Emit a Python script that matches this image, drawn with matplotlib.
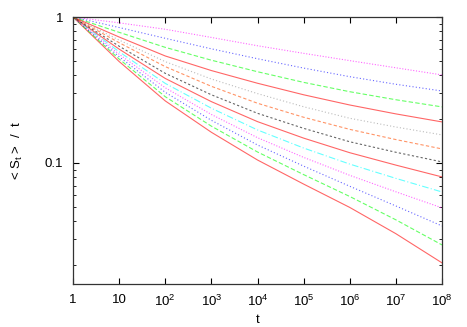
import matplotlib
matplotlib.use('Agg')
import matplotlib.pyplot as plt
import numpy as np

plt.rcParams['font.family'] = ['Liberation Sans', 'DejaVu Sans']
plt.rcParams['mathtext.default'] = 'regular'

# t values (decades) and log10(<S_t>/t), bottom curve first
t = [1, 1e1, 1e2, 1e3, 1e4, 1e5, 1e6, 1e7, 1e8]
logS = [
    [0, -0.305, -0.575, -0.790, -0.980, -1.145, -1.305, -1.485, -1.685],
    [0, -0.288, -0.546, -0.748, -0.925, -1.080, -1.230, -1.390, -1.562],
    [0, -0.272, -0.516, -0.708, -0.877, -1.022, -1.160, -1.295, -1.432],
    [0, -0.255, -0.485, -0.668, -0.827, -0.962, -1.085, -1.198, -1.308],
    [0, -0.238, -0.455, -0.625, -0.774, -0.898, -1.008, -1.106, -1.199],
    [0, -0.220, -0.421, -0.580, -0.717, -0.830, -0.930, -1.015, -1.096],
    [0, -0.200, -0.386, -0.533, -0.660, -0.763, -0.855, -0.927, -0.993],
    [0, -0.176, -0.340, -0.475, -0.591, -0.687, -0.770, -0.840, -0.904],
    [0, -0.158, -0.306, -0.425, -0.525, -0.615, -0.694, -0.754, -0.808],
    [0, -0.137, -0.267, -0.367, -0.454, -0.533, -0.603, -0.664, -0.719],
    [0, -0.105, -0.208, -0.296, -0.375, -0.448, -0.512, -0.567, -0.616],
    [0, -0.072, -0.146, -0.218, -0.286, -0.350, -0.409, -0.461, -0.507],
    [0, -0.040, -0.084, -0.140, -0.197, -0.249, -0.299, -0.348, -0.397],
]
colors = ['#ff0000', '#00ff00', '#0000ff', '#ff00ff', '#00ffff', '#ff0000', '#000000',
          '#ff4d00', '#909090', '#ff0000', '#00ff00', '#0000ff', '#ff00ff']
styles = ['-', (0, (4, 2)), (0, (1, 2)), (0, (1, 1.5)), (0, (6, 2, 1, 2)), '-',
          (0, (2, 2)), (0, (3, 2)), (0, (1, 2)), '-', (0, (4, 2)), (0, (1, 2)), (0, (1, 1.5))]
xtick_labels = ['1', '10', '$10^2$', '$10^3$', '$10^4$', '$10^5$', '$10^6$', '$10^7$', '$10^8$']

fig = plt.figure(figsize=(4.67, 3.27), dpi=100)
ax = fig.add_axes([0.1563, 0.1315, 0.7902, 0.8165])

for vals, c, ls in zip(logS, colors, styles):
    ax.plot(t, 10 ** np.array(vals), color=c, ls=ls, lw=0.8, alpha=0.6)

ax.set_xscale('log')
ax.set_yscale('log')
ax.set_xlim(1, 1e8)
ax.set_ylim(0.0148, 1)
ax.set_xticks(t)
ax.set_xticklabels(xtick_labels)
ax.xaxis.set_minor_locator(matplotlib.ticker.NullLocator())
ax.set_yticks([0.1, 1])
ax.set_yticklabels(['0.1', '1'])
ax.tick_params(which='both', direction='in', top=True, right=True, labelsize=9.5, pad=7)
ax.tick_params(which='major', length=4, width=0.8)
ax.tick_params(which='minor', length=2, width=0.6)
for s in ax.spines.values():
    s.set_linewidth(0.9)
    s.set_color('#333333')

ax.set_xlabel('t', fontsize=9.5, labelpad=4)
ax.set_ylabel('< S$_t$ >  /  t', fontsize=9.5, labelpad=14)

plt.savefig('out.png', dpi=100)
